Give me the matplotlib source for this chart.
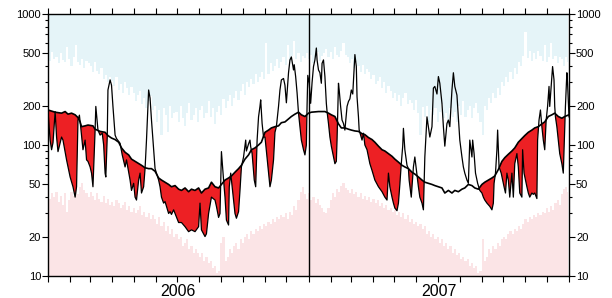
import numpy as np
import matplotlib
matplotlib.use('Agg')
import matplotlib.pyplot as plt
from matplotlib.ticker import FixedLocator, NullFormatter, FixedFormatter

plt.rcParams['font.family'] = ['Liberation Sans', 'DejaVu Sans']

# days counted from 1 Jan 2006
years = ['2006', '2007']
month_starts = [0, 31, 59, 90, 120, 151, 181, 212, 243, 273, 304, 334]

# observed (thin line)
obs_day = [0, 3, 5, 7, 10, 12, 14, 17, 19, 21, 26, 31, 35, 38, 40, 42, 44, 46, 49, 52,
           54, 56, 59, 61, 63, 66, 67, 70, 73, 76, 78, 80, 81, 83, 84, 87, 89, 91, 94, 96,
           101, 104, 108, 110, 115, 117, 120, 122, 124, 127, 129, 131, 134, 136, 138, 141, 143, 145, 148, 150,
           155, 157, 159, 162, 164, 166, 169, 171, 173, 176, 178, 180, 183, 187, 192, 197, 201, 206, 211, 213,
           215, 220, 222, 225, 229, 234, 236, 239, 241, 243, 246, 248, 250, 253, 254, 256, 260, 262, 264, 267,
           269, 271, 274, 277, 278, 281, 283, 284, 286, 289, 291, 293, 295, 297, 298, 300, 302, 304, 306, 309,
           311, 313, 316, 318, 320, 323, 325, 327, 330, 332, 334, 337, 339, 341, 344, 345, 347, 349, 351, 353,
           355, 358, 360, 362, 363, 364,
           366, 368, 370, 372, 374, 376, 377, 379, 381, 383, 384, 386, 388, 390, 391, 393, 395, 397, 400, 402,
           404, 405, 407, 408, 410, 412, 414, 416, 419, 421, 423, 425, 427, 429, 430, 432, 433, 435, 436, 440,
           442, 444, 447, 449, 451, 454, 458, 463, 468, 472, 475, 477, 479, 482, 484, 486, 489, 491, 493, 495,
           497, 498, 500, 503, 505, 506, 509, 510, 512, 514, 517, 519, 521, 524, 526, 527, 528, 531, 533, 535,
           538, 540, 542, 545, 547, 549, 552, 554, 556, 559, 561, 563, 566, 568, 570, 573, 575, 577, 580, 582,
           584, 587, 589, 591, 594, 595, 597, 599, 602, 605, 608, 610, 612, 615, 617, 619, 622, 624, 625, 627,
           629, 630, 632, 635, 637, 639, 641, 643, 645, 647, 650, 652, 654, 657, 659, 661, 664, 665, 667, 671,
           673, 675, 678, 680, 682, 685, 686, 688, 690, 692, 694, 696, 698, 700, 702, 703, 706, 707, 709, 710,
           711, 713, 715, 717, 720, 722, 723, 725, 727, 728, 730]
obs_val = [180, 109, 92, 104, 180, 115, 89, 104, 115, 109, 77, 57, 48, 40, 48, 155, 169, 134, 92, 109,
           77, 75, 68, 61, 48, 130, 197, 130, 119, 123, 100, 61, 57, 115, 263, 314, 286, 197, 119, 112,
           103, 84, 68, 77, 54, 45, 51, 40, 38, 54, 61, 43, 48, 66, 109, 263, 228, 155, 92, 66,
           54, 48, 40, 36, 37, 34, 30, 31, 29.5, 32, 30, 28, 25.6, 25.6, 23.8, 21.8, 22.5, 21.8, 23.8, 36,
           22.5, 20, 21, 30, 40, 38, 34, 28, 30, 89, 54, 40, 26.7, 24.5, 48, 61, 38, 30, 27.6, 31,
           45, 68, 81, 109, 90, 102, 109, 97, 86, 54, 48, 109, 164, 197, 221, 146, 115, 115, 90, 61,
           48, 54, 77, 125, 138, 197, 263, 314, 322, 286, 210, 356, 446, 470, 374, 410, 333, 250, 175, 138,
           109, 92, 84, 100, 200, 340,
           296, 208, 300, 397, 446, 550, 446, 374, 356, 296, 420, 446, 333, 208, 180, 146, 115, 98, 81, 72,
           75, 109, 296, 263, 197, 155, 146, 130, 197, 215, 225, 263, 245, 397, 490, 397, 233, 164, 130, 109,
           123, 100, 92, 81, 72, 64, 54, 48, 44, 40, 38, 61, 48, 40, 36, 33, 31.5, 36, 50, 72,
           98, 134, 92, 70, 66, 54, 40, 48, 68, 81, 59, 48, 40, 36, 32, 50, 81, 164, 138, 115,
           138, 272, 280, 245, 333, 296, 208, 138, 98, 146, 155, 138, 263, 356, 280, 240, 164, 109, 81, 68,
           61, 54, 51, 109, 81, 109, 86, 61, 51, 45, 43, 40, 38, 36, 35, 34, 32, 36, 51, 61,
           92, 130, 68, 61, 54, 48, 43, 61, 54, 40, 61, 40, 72, 86, 68, 43, 40, 92, 61, 48,
           43, 40, 43, 42, 43, 39, 109, 155, 185, 138, 109, 92, 155, 197, 280, 197, 333, 397, 314, 197,
           164, 138, 109, 86, 72, 61, 92, 197, 356, 296, 164]

# threshold (smooth line, top of red areas)
thr_day = [0, 10, 19, 24, 28, 33, 38, 42, 45, 47, 52, 56, 63, 66, 73, 80, 84, 89, 94, 99,
           103, 108, 113, 117, 122, 127, 131, 136, 141, 145, 150, 155, 159, 164, 169, 173, 178, 183, 187, 192,
           197, 201, 206, 211, 215, 220, 225, 229, 234, 239, 243, 248, 253, 257, 262, 267, 271, 276, 281, 285,
           290, 295, 299, 304, 309, 313, 318, 323, 327, 332, 337, 341, 346, 351, 355, 360,
           365, 369, 379, 388, 393, 397, 402, 407, 411, 416, 421, 425, 430, 435, 440, 444, 449, 454, 458, 463,
           468, 472, 477, 482, 486, 491, 496, 500, 505, 510, 514, 519, 524, 528, 533, 538, 542, 547, 552, 556,
           561, 566, 570, 575, 580, 584, 589, 594, 598, 603, 608, 612, 617, 622, 626, 631, 636, 640, 645, 650,
           654, 659, 664, 668, 673, 678, 682, 687, 692, 696, 701, 706, 710, 715, 720, 724, 730]
thr_val = [185, 178, 175, 180, 172, 175, 170, 162, 150, 138, 140, 142, 140, 132, 127, 125, 118, 113, 110, 105,
           95, 88, 84, 78, 75, 72, 70, 67, 66, 66, 63, 56, 54, 52, 50, 48, 49, 46, 45, 47,
           44, 46, 45, 47, 43, 46, 47, 52, 48, 47, 50, 54, 56, 58, 62, 66, 70, 78, 84, 92,
           95, 100, 105, 125, 130, 135, 138, 140, 148, 150, 158, 165, 172, 178, 170, 165,
           175, 178, 180, 180, 175, 170, 165, 145, 135, 135, 132, 130, 128, 127, 122, 120, 114, 110, 105, 98,
           92, 90, 86, 82, 78, 74, 70, 68, 66, 62, 60, 57, 54, 52, 51, 50, 49, 48, 47, 43,
           45, 43, 45, 44, 46, 47, 50, 49, 47, 46, 50, 52, 54, 56, 58, 65, 75, 80, 85, 90,
           95, 105, 112, 118, 125, 130, 135, 138, 145, 150, 165, 170, 175, 165, 160, 165, 170]

# envelopes, every 3 days
env_day = np.arange(0, 730, 3)
upper_env = [480, 440, 510, 455, 470, 420, 500, 445, 430, 560,
             450, 400, 470, 580, 430, 410, 455, 390, 440, 420,
             400, 360, 430, 370, 350, 390, 320, 345, 300, 330,
             310, 280, 330, 265, 290, 250, 300, 270, 240, 275,
             250, 215, 240, 260, 205, 230, 190, 215, 235, 185,
             200, 150, 185, 120, 190, 170, 125, 200, 160, 175,
             180, 150, 200, 160, 140, 175, 210, 155, 170, 190,
             150, 185, 200, 160, 175, 215, 165, 190, 145, 180,
             200, 170, 225, 190, 215, 240, 200, 230, 260, 220,
             260, 290, 240, 300, 275, 320, 290, 350, 300, 330,
             360, 320, 600, 350, 420, 370, 400, 450, 390, 430,
             470, 410, 580, 440, 480, 620, 450, 500, 430, 480,
             460, 500, 450, 490, 420, 470, 510, 440, 480, 500,
             540, 470, 510, 450, 560, 490, 470, 520, 600, 490,
             470, 420, 450, 390, 430, 400, 360, 410, 350, 380,
             360, 320, 340, 290, 310, 330, 270, 300, 250, 280,
             260, 230, 250, 215, 240, 200, 230, 250, 205, 220,
             210, 185, 220, 175, 120, 195, 165, 200, 150, 185,
             170, 190, 150, 180, 205, 160, 175, 145, 190, 165,
             180, 150, 200, 170, 215, 165, 185, 200, 160, 190,
             210, 175, 150, 120, 200, 185, 230, 210, 250, 230,
             270, 240, 300, 280, 330, 300, 360, 320, 390, 350,
             430, 400, 480, 730, 460, 520, 440, 500, 450, 520,
             480, 440, 580, 430, 470, 600, 450, 480, 420, 470,
             450, 400, 470, 430]
lower_env = [42, 39, 43, 40, 44, 37, 41, 35, 43, 31,
             38, 44, 41, 46, 42, 48, 51, 45, 43, 40,
             44, 41, 38, 43, 39, 37, 41, 36, 39, 35,
             37, 34, 38, 36, 33, 35, 37, 32, 34, 31,
             33, 30, 32, 34, 29, 31, 28, 30, 27, 29,
             27, 25, 28, 24, 26, 22, 24, 21, 23, 20,
             21, 19, 20, 17, 18, 19, 16, 17, 15, 16,
             15, 14, 15, 13, 14, 12.5, 13, 11.5, 12, 10.5,
             11, 18, 20, 13, 14, 16, 15, 17, 18, 16,
             19, 18, 20, 21, 19, 22, 21, 23, 22, 24,
             23, 25, 24, 26, 25, 27, 26, 28, 27, 29,
             28, 30, 27, 31, 29, 34, 32, 38, 44, 48,
             42, 39, 43, 38, 40, 36, 39, 35, 33, 31,
             30, 33, 38, 43, 40, 46, 44, 49, 51, 47,
             45, 43, 46, 42, 44, 40, 43, 39, 41, 38,
             40, 37, 39, 36, 38, 34, 36, 33, 35, 32,
             33, 31, 32, 29, 31, 28, 30, 27, 29, 26,
             27, 25, 26, 24, 25, 23, 24, 21, 22, 20,
             21, 19, 20, 18, 19, 17, 18, 16, 17, 15,
             16, 14.5, 15, 13.5, 14, 13, 13.5, 12, 12.5, 11.5,
             12, 10.5, 11, 19, 13, 14, 16, 15, 17, 16,
             18, 17, 19, 20, 19, 21, 22, 21, 23, 22,
             24, 23, 25, 27, 26, 28, 27, 29, 28, 30,
             29, 31, 30, 33, 31, 34, 32, 36, 38, 35,
             42, 46, 48, 44]

y_ticks = [10, 20, 50, 100, 200, 500, 1000]


def main():
    fig = plt.figure(figsize=(6.12, 2.98), dpi=100)
    ax = fig.add_axes([48 / 612, 22 / 298, 521 / 612, 262 / 298])
    ax.set_yscale('log')

    ax.fill_between(env_day, upper_env, 1000, step='mid', color='#e5f4f8', lw=0)
    ax.fill_between(env_day, 10, lower_env, step='mid', color='#fbe4e6', lw=0)

    grid = np.union1d(obs_day, thr_day)
    o = 10 ** np.interp(grid, obs_day, np.log10(obs_val))
    t = 10 ** np.interp(grid, thr_day, np.log10(thr_val))
    ax.fill_between(grid, o, t, where=o < t, interpolate=True, color='#ed2024', lw=0)

    ax.plot(thr_day, thr_val, color='black', lw=1.2)
    ax.plot(obs_day, obs_val, color='black', lw=0.9)
    ax.axvline(365, color='black', lw=1)

    ax.set_xlim(0, 730)
    ax.set_ylim(10, 1000)

    months = [m for m in month_starts] + [m + 365 for m in month_starts] + [730]
    ax.xaxis.set_major_locator(FixedLocator(months))
    ax.xaxis.set_major_formatter(NullFormatter())
    ax.tick_params(axis='x', which='major', direction='out', top=True, bottom=True,
                   length=4, width=0.8)
    ax.xaxis.set_minor_locator(FixedLocator([]))

    ax.yaxis.set_major_locator(FixedLocator(y_ticks))
    ax.yaxis.set_major_formatter(FixedFormatter([str(v) for v in y_ticks]))
    minors = [m * d for d in (10, 100) for m in range(2, 10) if m * d not in y_ticks]
    ax.yaxis.set_minor_locator(FixedLocator(minors))
    ax.yaxis.set_minor_formatter(NullFormatter())
    ax.tick_params(axis='y', which='both', direction='out', left=True, right=True,
                   labelleft=True, labelright=True, labelsize=8, pad=1, width=0.8)
    ax.tick_params(axis='y', which='major', length=4)
    ax.tick_params(axis='y', which='minor', length=2)

    for s in ax.spines.values():
        s.set_linewidth(1)

    for i, yr in enumerate(years):
        ax.text(182.5 + 365 * i, -0.03, yr, transform=ax.get_xaxis_transform(),
                ha='center', va='top', fontsize=11.5)

    fig.savefig('out.png', dpi=100)


if __name__ == '__main__':
    main()
